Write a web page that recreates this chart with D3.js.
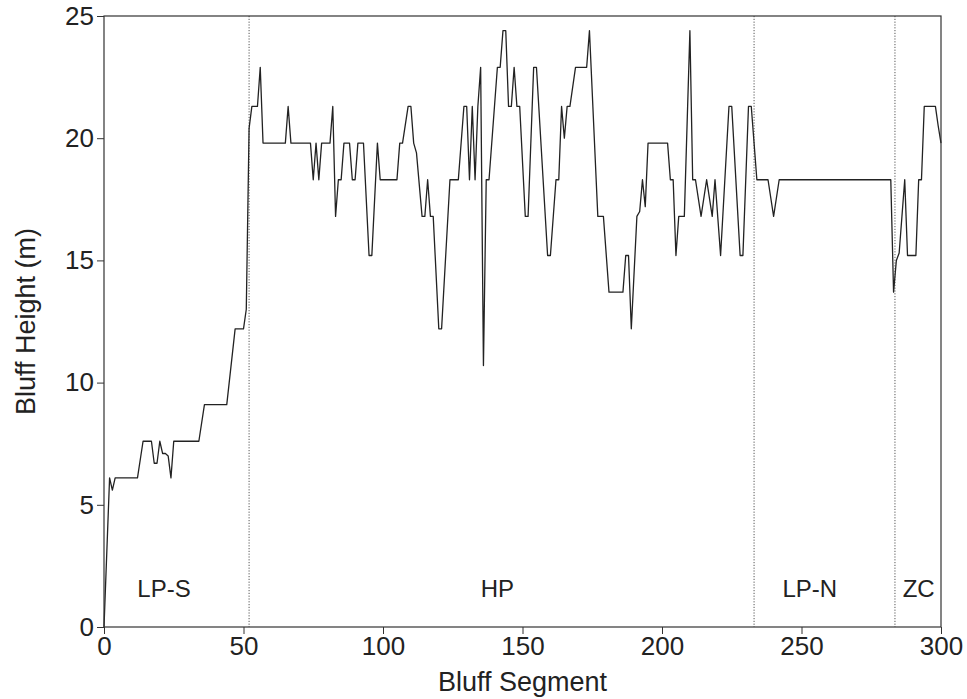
<!DOCTYPE html>
<html>
<head>
<meta charset="utf-8">
<script src="https://cdn.jsdelivr.net/npm/d3@7"></script>
<style>
  html, body { margin: 0; padding: 0; background: #fff; }
  svg { display: block; font-family: "Liberation Sans", Arial, Helvetica, sans-serif; }
  .axis text { font-size: 26px; fill: #222; }
  .axis path, .axis line { stroke: #333; }
</style>
</head>
<body>
<svg id="chart"></svg>
<script>
/* Bluff height along the shoreline – single line chart */

const W = 967, H = 699;
const margin = { top: 16, right: 26, bottom: 72, left: 104 };

/* ---------- Data (breakpoints of the profile) ---------- */
const SEGMENTS = [
  0, 2, 3, 4, 12, 14, 17, 18, 19, 20, 21, 22, 23, 24, 25, 34, 36, 44, 47, 50,
  51, 52, 53, 55, 56, 57, 65, 66, 67, 74, 75, 76, 77, 78, 81, 82, 83, 84, 85, 86,
  88, 89, 90, 91, 93, 95, 96, 98, 99, 105, 106, 107, 109, 110, 111, 112, 114, 115, 116, 117,
  118, 120, 121, 124, 127, 129, 130, 131, 132, 133, 134, 135, 136, 137, 138, 141, 142, 143, 144, 145,
  146, 147, 148, 149, 151, 152, 154, 155, 159, 160, 162, 163, 164, 165, 166, 167, 169, 173, 174, 177,
  179, 181, 186, 187, 188, 189, 191, 192, 193, 194, 195, 202, 203, 204, 205, 206, 208, 210, 211, 212,
  214, 216, 218, 219, 221, 224, 225, 228, 229, 231, 232, 234, 238, 240, 242, 282, 283, 284, 285, 287,
  288, 291, 292, 293, 294, 298, 299, 300
];
const HEIGHTS = [
  0, 6.1, 5.6, 6.1, 6.1, 7.6, 7.6, 6.7, 6.7, 7.6, 7.1, 7.1, 7.0, 6.1, 7.6, 7.6, 9.1, 9.1, 12.2, 12.2,
  13.0, 20.4, 21.3, 21.3, 22.9, 19.8, 19.8, 21.3, 19.8, 19.8, 18.3, 19.8, 18.3, 19.8, 19.8, 21.3, 16.8, 18.3, 18.3, 19.8,
  19.8, 18.3, 18.3, 19.8, 19.8, 15.2, 15.2, 19.8, 18.3, 18.3, 19.8, 19.8, 21.3, 21.3, 19.8, 19.4, 16.8, 16.8, 18.3, 16.8,
  16.8, 12.2, 12.2, 18.3, 18.3, 21.3, 21.3, 18.3, 21.3, 18.3, 21.3, 22.9, 10.7, 18.3, 18.3, 22.9, 22.9, 24.4, 24.4, 21.3,
  21.3, 22.9, 21.3, 21.3, 16.8, 16.8, 22.9, 22.9, 15.2, 15.2, 18.3, 18.3, 21.3, 20.0, 21.3, 21.3, 22.9, 22.9, 24.4, 16.8,
  16.8, 13.7, 13.7, 15.2, 15.2, 12.2, 16.8, 17.0, 18.3, 17.2, 19.8, 19.8, 18.3, 18.3, 15.2, 16.8, 16.8, 24.4, 18.3, 18.3,
  16.8, 18.3, 16.8, 18.3, 15.2, 21.3, 21.3, 15.2, 15.2, 21.3, 21.3, 18.3, 18.3, 16.8, 18.3, 18.3, 13.7, 15.0, 15.3, 18.3,
  15.2, 15.2, 18.3, 18.3, 21.3, 21.3, 20.5, 19.8
];

const ZONE_BOUNDS = [52, 233, 283.5];
const ZONE_NAMES = ["LP-S", "HP", "LP-N", "ZC"];
const ZONE_LABEL_X = [21.5, 141, 253, 292];
const ZONE_LABEL_Y = 1.5;

const X_TICKS = [0, 50, 100, 150, 200, 250, 300];
const Y_TICKS = [0, 5, 10, 15, 20, 25];

/* ---------- Chart ---------- */
function draw() {
  const innerW = W - margin.left - margin.right;
  const innerH = H - margin.top - margin.bottom;

  const svg = d3.select("#chart").attr("width", W).attr("height", H);
  const g = svg.append("g").attr("transform", `translate(${margin.left},${margin.top})`);

  const x = d3.scaleLinear().domain([0, 300]).range([0, innerW]);
  const y = d3.scaleLinear().domain([0, 25]).range([innerH, 0]);

  // zone separators (dotted)
  g.append("g")
    .selectAll("line")
    .data(ZONE_BOUNDS)
    .join("line")
    .attr("x1", (d) => x(d))
    .attr("x2", (d) => x(d))
    .attr("y1", 0)
    .attr("y2", innerH)
    .attr("stroke", "#555")
    .attr("stroke-width", 1)
    .attr("stroke-dasharray", "1.2,1.6");

  // zone names
  g.append("g")
    .selectAll("text")
    .data(ZONE_NAMES)
    .join("text")
    .attr("x", (d, i) => x(ZONE_LABEL_X[i]))
    .attr("y", y(ZONE_LABEL_Y))
    .attr("text-anchor", "middle")
    .attr("dominant-baseline", "middle")
    .attr("font-size", 24)
    .attr("fill", "#222")
    .text((d) => d);

  const pts = SEGMENTS.map((s, i) => [s, HEIGHTS[i]]);
  const line = d3.line().x((d) => x(d[0])).y((d) => y(d[1]));
  g.append("path")
    .datum(pts)
    .attr("d", line)
    .attr("fill", "none")
    .attr("stroke", "#222")
    .attr("stroke-width", 1.3)
    .attr("stroke-linejoin", "round");

  // frame
  g.append("rect")
    .attr("width", innerW)
    .attr("height", innerH)
    .attr("fill", "none")
    .attr("stroke", "#333")
    .attr("stroke-width", 1.2);

  const xAxis = d3.axisBottom(x).tickValues(X_TICKS).tickSize(7).tickPadding(3).tickSizeOuter(0);
  g.append("g")
    .attr("class", "axis")
    .attr("transform", `translate(0,${innerH})`)
    .call(xAxis)
    .call((a) => a.select(".domain").remove());

  const yAxis = d3.axisLeft(y).tickValues(Y_TICKS).tickSize(7).tickPadding(3).tickSizeOuter(0);
  g.append("g")
    .attr("class", "axis")
    .call(yAxis)
    .call((a) => a.select(".domain").remove());

  // axis titles
  svg.append("text")
    .attr("x", margin.left + innerW / 2)
    .attr("y", H - 8)
    .attr("text-anchor", "middle")
    .attr("font-size", 27)
    .attr("fill", "#222")
    .text("Bluff Segment");

  svg.append("text")
    .attr("transform", `translate(35,${margin.top + innerH / 2}) rotate(-90)`)
    .attr("text-anchor", "middle")
    .attr("font-size", 27)
    .attr("fill", "#222")
    .text("Bluff Height (m)");
}

draw();
</script>
</body>
</html>
